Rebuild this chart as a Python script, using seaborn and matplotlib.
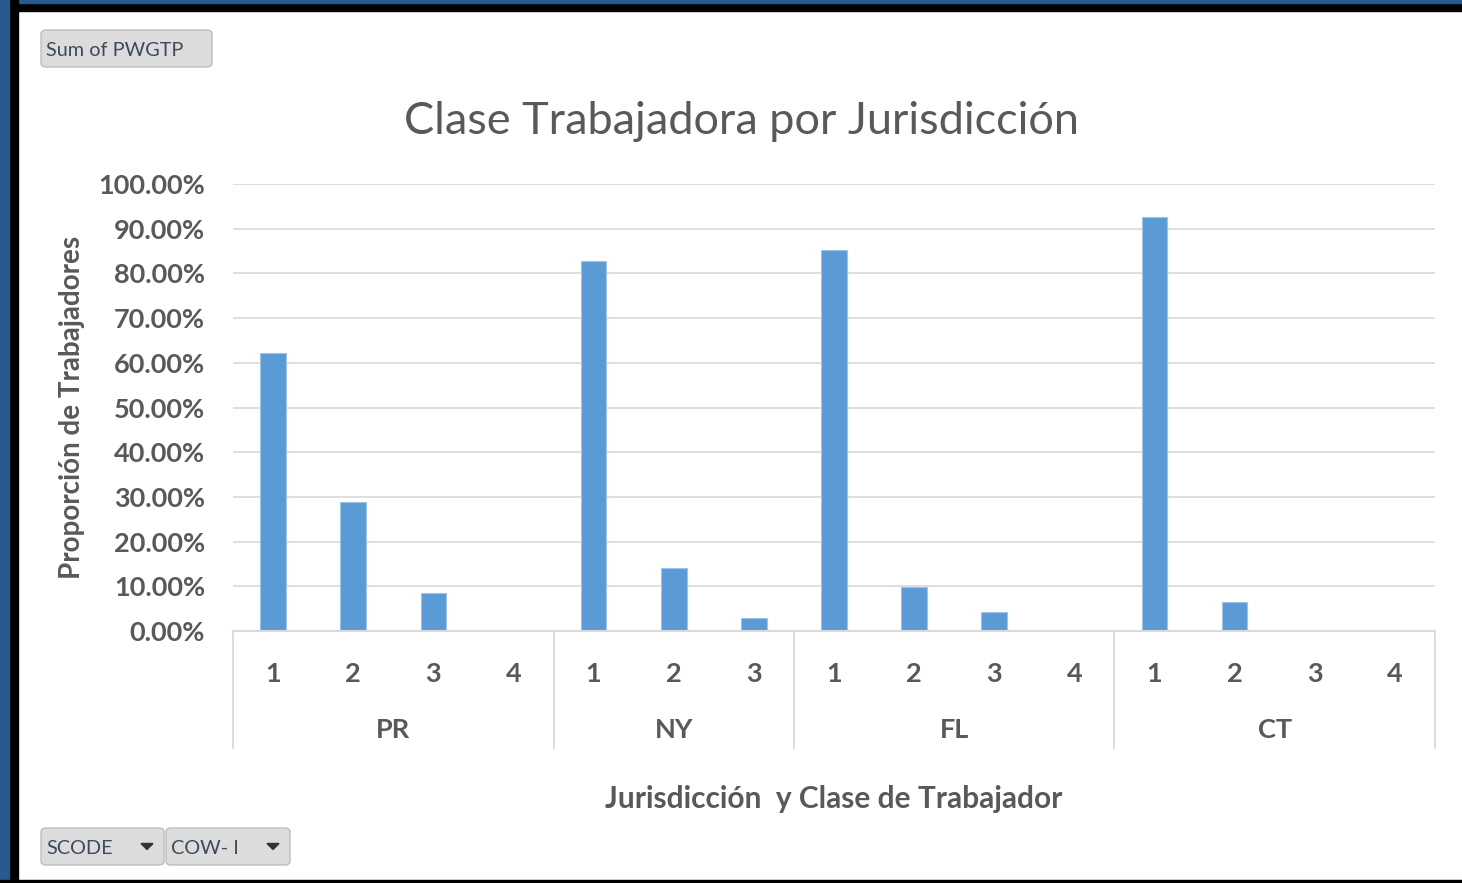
import pandas as pd
import matplotlib.pyplot as plt
import seaborn as sns
from matplotlib.patches import Rectangle, FancyBboxPatch, Polygon

# datos
jurisdicciones = ['PR', 'NY', 'FL', 'CT']
clases = {'PR': ['1', '2', '3', '4'],
          'NY': ['1', '2', '3'],
          'FL': ['1', '2', '3', '4'],
          'CT': ['1', '2', '3', '4']}
pr_vals = [62.2, 28.9, 8.5, 0.05]
ny_vals = [82.8, 14.1, 2.9]
fl_vals = [85.2, 9.9, 4.3, 0.05]
ct_vals = [92.6, 6.5, 0.05, 0.05]
yticks = [0, 10, 20, 30, 40, 50, 60, 70, 80, 90, 100]

valores = {'PR': pr_vals, 'NY': ny_vals, 'FL': fl_vals, 'CT': ct_vals}
filas = []
for j in jurisdicciones:
    for c, v in zip(clases[j], valores[j]):
        filas.append({'slot': j + '-' + c, 'clase': c, 'scode': j, 'pct': v})
df = pd.DataFrame(filas)

sns.set_theme(style='white')
plt.rcParams['font.family'] = ['Lato', 'DejaVu Sans']
gris = '#595959'
linea = '#D9D9D9'

fig = plt.figure(figsize=(14.62, 8.83), dpi=100)
W, H = 1462, 883

def fx(px):
    return px / W

def fy(py):
    return 1 - py / H

# bordes de la ventana
fig.patches.append(Rectangle((0, fy(11)), 1, 11 / H, transform=fig.transFigure, color='black'))
fig.patches.append(Rectangle((0, fy(3)), 1, 3 / H, transform=fig.transFigure, color='#285A8F'))
fig.patches.append(Rectangle((0, 0), fx(18), 1, transform=fig.transFigure, color='black'))
fig.patches.append(Rectangle((0, 0), fx(9), 1, transform=fig.transFigure, color='#285A8F'))
fig.patches.append(Rectangle((0, 0), 1, 3 / H, transform=fig.transFigure, color='black'))

ax = fig.add_axes([fx(233), fy(631), fx(1435) - fx(233), fy(184) - fy(631)])
sns.barplot(data=df, x='slot', y='pct', order=list(df['slot']), color='#5B9BD5',
            saturation=1, width=0.32, edgecolor='#9DC3E6', linewidth=0.8, ax=ax)
ax.set_ylim(0, 100)
ax.set_xlim(-0.5, len(df) - 0.5)
ax.set_yticks(yticks)
ax.set_yticklabels([f'{t:.2f}%' for t in yticks], fontsize=19.5, fontweight='bold', color=gris)
ax.yaxis.grid(True, color=linea, linewidth=1.2)
ax.set_axisbelow(True)
for s in ['top', 'right', 'left']:
    ax.spines[s].set_visible(False)
ax.spines['bottom'].set_color(linea)
ax.spines['bottom'].set_linewidth(1.5)
ax.tick_params(axis='y', length=0, pad=20)
ax.tick_params(axis='x', length=0, pad=22)
ax.set_xticks(range(len(df)))
ax.set_xticklabels(df['clase'], fontsize=19.5, fontweight='bold', color=gris)
ax.set_xlabel('')
ax.set_ylabel('Proporción de Trabajadores', fontsize=20, fontweight='bold', color=gris, labelpad=10)

# separadores y etiquetas de grupo
trans = ax.get_xaxis_transform()
inicio = -0.5
for j in jurisdicciones:
    n = len(clases[j])
    ax.plot([inicio, inicio], [0, -0.262], transform=trans, color=linea, lw=1.3, clip_on=False)
    ax.text(inicio + n / 2, -0.221, j, transform=trans, ha='center', va='center',
            fontsize=19.5, fontweight='bold', color=gris)
    inicio += n
ax.plot([inicio, inicio], [0, -0.262], transform=trans, color=linea, lw=1.3, clip_on=False)

fig.text(fx(741), fy(122), 'Clase Trabajadora por Jurisdicción', ha='center', va='center',
         fontsize=32.5, color=gris)
fig.text(fx(834), fy(799), 'Jurisdicción  y Clase de Trabajador', ha='center', va='center',
         fontsize=21.5, fontweight='bold', color=gris)

# botones de la tabla dinamica
def boton(x0, y0, x1, y1, texto, flecha=False):
    fig.patches.append(FancyBboxPatch((fx(x0), fy(y1)), fx(x1 - x0), (y1 - y0) / H,
                                      boxstyle='round,pad=0,rounding_size=0.004',
                                      transform=fig.transFigure, facecolor='#DCDCDC',
                                      edgecolor='#BEBEBE', linewidth=1))
    fig.text(fx(x0 + 5), fy((y0 + y1) / 2 + 2.5), texto, ha='left', va='center',
             fontsize=14.3, color='#3C4A5A')
    if flecha:
        cx, cy = x1 - 17, (y0 + y1) / 2
        fig.patches.append(Polygon([(fx(cx - 6), fy(cy - 3)), (fx(cx + 6), fy(cy - 3)),
                                    (fx(cx), fy(cy + 3))], closed=True,
                                   transform=fig.transFigure, color='#333333'))

boton(41, 30, 212, 67, 'Sum of PWGTP')
boton(41, 828, 164, 865, 'SCODE', flecha=True)
boton(166, 828, 290, 865, 'COW- I', flecha=True)

fig.savefig('out.png', dpi=100, facecolor='white')
